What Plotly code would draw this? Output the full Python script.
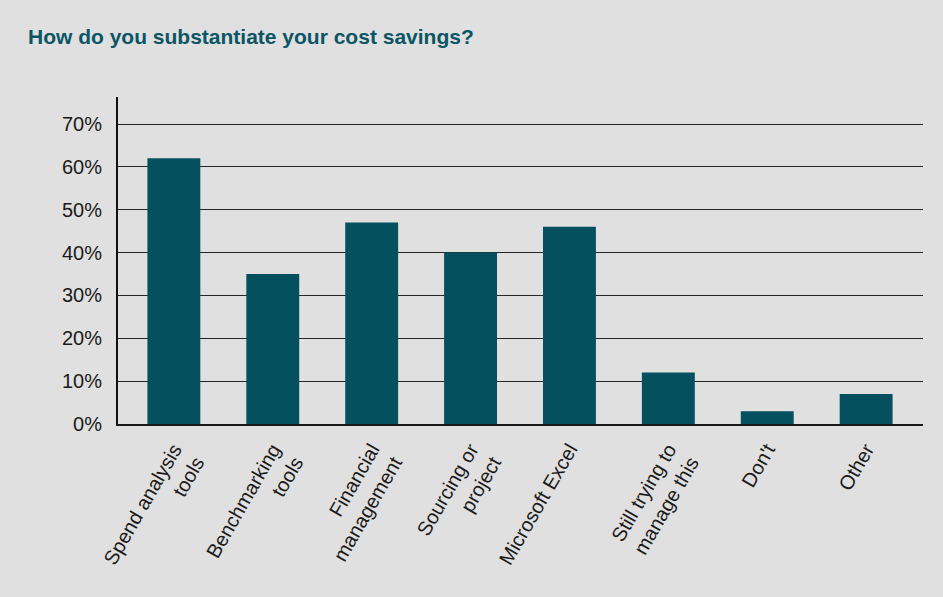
import plotly.graph_objects as go

# Survey responses: share of respondents per method
categories = [
    "Spend analysis<br>tools",
    "Benchmarking<br>tools",
    "Financial<br>management",
    "Sourcing or<br>project",
    "Microsoft Excel",
    "Still trying to<br>manage this",
    "Don't",
    "Other",
]
shares = [62, 35, 47, 40, 46, 12, 3, 7]
y_ticks = [0, 10, 20, 30, 40, 50, 60, 70]
y_tick_labels = [f"{v}%" for v in y_ticks]

BG = "#dfe0df"
TEAL = "#04505f"
TITLE = "#0b5565"

fig = go.Figure(
    go.Bar(
        x=list(range(len(categories))),
        y=shares,
        marker=dict(color=TEAL, line=dict(width=0)),
        width=0.535,
        hoverinfo="skip",
    )
)

fig.update_layout(
    width=943,
    height=597,
    margin=dict(l=118, r=20, t=97, b=173),
    paper_bgcolor=BG,
    plot_bgcolor=BG,
    showlegend=False,
    font=dict(family="Liberation Sans, Arial, sans-serif", color="#1a1a1a"),
    title=dict(
        text="<b>How do you substantiate your cost savings?</b>",
        font=dict(size=21, color=TITLE, family="Liberation Sans, Arial, sans-serif"),
        x=28 / 943,
        xanchor="left",
        y=1 - 37 / 597,
        yanchor="middle",
    ),
)

fig.update_xaxes(
    tickmode="array",
    tickvals=list(range(len(categories))),
    ticktext=categories,
    tickangle=-60,
    tickfont=dict(size=20, color="#1a1a1a"),
    range=[-0.565, 7.575],
    showgrid=False,
    showline=True,
    linecolor="#1a1a1a",
    linewidth=2,
    ticks="",
    ticklabelstandoff=4,
    fixedrange=True,
)

fig.update_yaxes(
    range=[0, 76.3],
    tickmode="array",
    tickvals=y_ticks,
    ticktext=y_tick_labels,
    tickfont=dict(size=20, color="#1a1a1a"),
    showgrid=True,
    gridcolor="#262626",
    gridwidth=1,
    zeroline=False,
    showline=True,
    linecolor="#111111",
    linewidth=2,
    ticks="",
    ticklabelstandoff=10,
    fixedrange=True,
)

fig.write_html("out.html")
